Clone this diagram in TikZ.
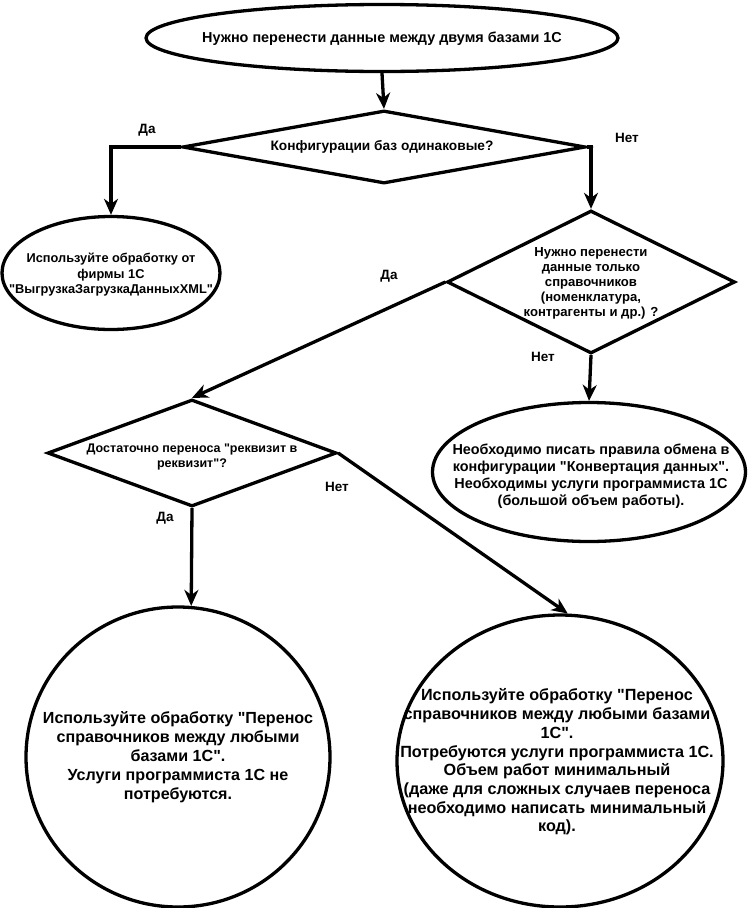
\documentclass[tikz,border=0pt]{standalone}
\usepackage{fontspec}
\setmainfont{Liberation Sans}[Ligatures=TeXOff]
\usetikzlibrary{shapes.geometric,arrows.meta}
\begin{document}
\begin{tikzpicture}[x=1pt,y=-1pt,
  shp/.style={draw=black, line width=3.3pt, inner sep=0pt},
  oval/.style={shp, ellipse},
  dia/.style={shp, diamond},
  txt/.style={align=center, inner sep=0pt},
  lbl/.style={font=\bfseries\fontsize{13.5}{15}\selectfont, inner sep=0pt},
  conn/.style={line width=3.3pt, -{Stealth[length=16pt,width=14pt,inset=5pt]}},
  ]
\useasboundingbox[fill=white] (0,0) rectangle (750,908);

% shapes
\node[oval, minimum width=472pt, minimum height=67pt] (e0) at (382,38) {};
\node[dia, minimum width=403pt, minimum height=73pt] (d1) at (384,147) {};
\node[oval, minimum width=218pt, minimum height=113pt] (e1) at (111,273) {};
\node[dia, minimum width=288pt, minimum height=143pt] (d2) at (591,282) {};
\node[oval, minimum width=313pt, minimum height=139pt] (e2) at (589,472) {};
\node[dia, minimum width=289pt, minimum height=107pt] (d3) at (192,453) {};
\node[oval, minimum width=304pt, minimum height=300pt] (c1) at (178,757) {};
\node[oval, minimum width=326pt, minimum height=292pt] (c2) at (560,761) {};

% texts
\node[txt, font=\bfseries\fontsize{14.4}{17}\selectfont] (t0) at (382,39) {Нужно перенести данные между двумя базами 1С};
\node[txt, font=\bfseries\fontsize{13.7}{15}\selectfont] (t1) at (382,147) {Конфигурации баз одинаковые?};
\node[txt, font=\bfseries\fontsize{12.8}{15.5}\selectfont] (te1) at (111,275) {Используйте обработку от\\фирмы 1С\\"ВыгрузкаЗагрузкаДанныхXML"};
\node[txt, font=\bfseries\fontsize{13.1}{15}\selectfont] (td2) at (591,283) {Нужно перенести\\данные только\\справочников\\(номенклатура,\\контрагенты и др.) ?};
\node[txt, font=\bfseries\fontsize{14.4}{17}\selectfont] (te2) at (591,476) {Необходимо писать правила обмена в\\конфигурации "Конвертация данных".\\Необходимы услуги программиста 1С\\(большой объем работы).};
\node[txt, font=\bfseries\fontsize{12.5}{15}\selectfont] (td3) at (192,457) {Достаточно переноса "реквизит в\\реквизит"?};
\node[txt, font=\bfseries\fontsize{16.1}{19}\selectfont] (tc1) at (178,757) {Используйте обработку "Перенос\\справочников между любыми\\базами 1С".\\Услуги программиста 1С не\\потребуются.};
\node[txt, font=\bfseries\fontsize{16.2}{18.7}\selectfont] (tc2) at (557,762) {Используйте обработку "Перенос\\справочников между любыми базами\\1С".\\Потребуются услуги программиста 1С.\\Объем работ минимальный\\(даже для сложных случаев переноса\\необходимо написать минимальный\\код).};

% labels
\node[lbl] (l1) at (147,130) {Да};
\node[lbl] (l2) at (627,138) {Нет};
\node[lbl] (l3) at (389,276) {Да};
\node[lbl] (l4) at (543,357) {Нет};
\node[lbl] (l5) at (165,518) {Да};
\node[lbl] (l6) at (337,487) {Нет};

% connectors
\draw[conn] (e0.south) -- (d1.north);
\draw[conn] (d1.west) -| (e1.north);
\draw[conn] (d1.east) -| (d2.north);
\draw[conn] (d2.west) -- (d3.north);
\draw[conn] (d2.south) -- (e2.north);
\draw[conn] (d3.south) -- (c1.85);
\draw[conn] (d3.east) -- (c2.87);
\end{tikzpicture}
\end{document}
